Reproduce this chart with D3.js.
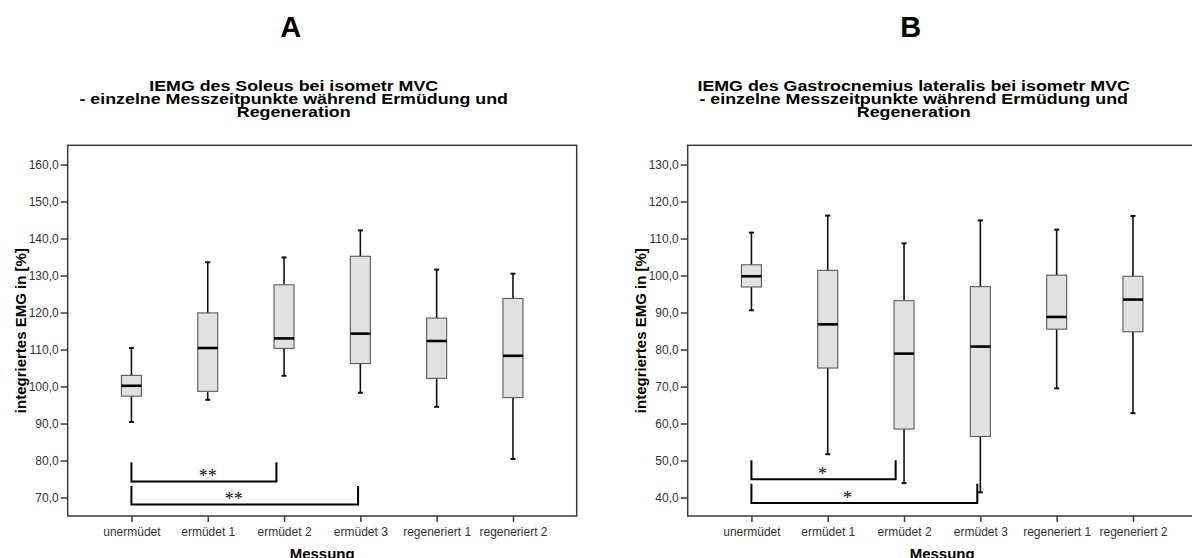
<!DOCTYPE html>
<html>
<head>
<meta charset="utf-8">
<script src="https://cdn.jsdelivr.net/npm/d3@7"></script>
<style>
  html, body { margin: 0; padding: 0; background: #fff; }
  svg { display: block; font-family: "Liberation Sans", Arial, sans-serif; }
</style>
</head>
<body>
<svg id="chart" width="1192" height="558"></svg>
<script>
// Measurement time points (shared by both panels)
const categories = ["unermüdet", "ermüdet 1", "ermüdet 2", "ermüdet 3", "regeneriert 1", "regeneriert 2"];

// Soleus: whisker ends, quartiles and medians (% of unfatigued)
const soleusMin    = [90.4, 96.4, 102.9, 98.3, 94.5, 80.4];
const soleusQ1     = [97.4, 98.7, 110.3, 106.2, 102.2, 97.0];
const soleusMedian = [100.2, 110.4, 113.0, 114.3, 112.3, 108.3];
const soleusQ3     = [103.0, 119.9, 127.5, 135.2, 118.5, 123.8];
const soleusMax    = [110.4, 133.6, 134.9, 142.2, 131.6, 130.5];
const soleusTicks  = [70, 80, 90, 100, 110, 120, 130, 140, 150, 160];
const soleusDomain = [65, 165.2];
const soleusTitle  = ["IEMG des Soleus bei isometr MVC",
                      "- einzelne Messzeitpunkte während Ermüdung und",
                      "Regeneration"];
// Significance brackets: category index span, leg top, base line, label, label position (index)
const soleusSig = [
  { from: 0, to: 1.9,  top: 79.5, base: 74.3, label: "**", at: 1.0 },
  { from: 0, to: 2.97, top: 73.1, base: 68.1, label: "**", at: 1.34 }
];

// Gastrocnemius lateralis
const gastroMin    = [90.6, 51.7, 43.9, 41.4, 69.5, 62.8];
const gastroQ1     = [96.9, 75.0, 58.5, 56.5, 85.5, 84.8];
const gastroMedian = [99.8, 86.8, 78.9, 80.8, 88.8, 93.5];
const gastroQ3     = [102.9, 101.4, 93.2, 97.0, 100.1, 99.8];
const gastroMax    = [111.6, 116.2, 108.7, 114.9, 112.4, 116.1];
const gastroTicks  = [40, 50, 60, 70, 80, 90, 100, 110, 120, 130];
const gastroDomain = [35, 135.2];
const gastroTitle  = ["IEMG des Gastrocnemius lateralis bei isometr MVC",
                      "- einzelne Messzeitpunkte während Ermüdung und",
                      "Regeneration"];
const gastroSig = [
  { from: 0, to: 1.89, top: 50.1, base: 44.9, label: "*", at: 0.93 },
  { from: 0, to: 2.96, top: 43.7, base: 38.5, label: "*", at: 1.26 }
];

const panelLetters = ["A", "B"];
const yLabel = "integriertes EMG in [%]";
const xLabel = "Messung";

const svg = d3.select("#chart");
const fmt = v => d3.format(".1f")(v).replace(".", ",");

const plotW = 509, plotTop = 145.3, plotBottom = 516;

function drawPanel(offsetX, letter, title, mins, q1s, meds, q3s, maxs, ticks, domain, sig) {
  const x0 = offsetX;
  const g = svg.append("g");

  const x = d3.scalePoint().domain(categories).range([x0, x0 + plotW]).padding(0.835);
  const xi = d3.scaleLinear().domain([0, categories.length - 1])
    .range([x(categories[0]), x(categories[categories.length - 1])]);
  const y = d3.scaleLinear().domain(domain).range([plotBottom, plotTop]);

  // Panel letter and title
  const cx = x0 + 225;
  g.append("text").attr("x", cx - 2).attr("y", 37)
    .attr("text-anchor", "middle").attr("font-weight", "bold").attr("font-size", 29)
    .text(letter);
  title.forEach((line, i) => {
    g.append("text")
      .attr("transform", `translate(${cx + 1},${91 + i * 13}) scale(1.15,1)`)
      .attr("text-anchor", "middle").attr("font-weight", "bold").attr("font-size", 15.5)
      .text(line);
  });

  // Plot frame
  g.append("rect").attr("x", x0).attr("y", plotTop).attr("width", plotW).attr("height", plotBottom - plotTop)
    .attr("fill", "none").attr("stroke", "#3c3c3c").attr("stroke-width", 1.5);

  // Y axis
  const yAxis = d3.axisLeft(y).tickValues(ticks).tickFormat(fmt).tickSize(7).tickPadding(2);
  const ya = g.append("g").attr("transform", `translate(${x0},0)`).call(yAxis);
  ya.select(".domain").remove();
  ya.selectAll(".tick line").attr("stroke", "#3c3c3c").attr("stroke-width", 1.5);
  ya.selectAll(".tick text").attr("font-size", 12).attr("fill", "#333")
    .attr("font-family", "Liberation Sans, Arial, sans-serif");

  // X axis
  const xAxis = d3.axisBottom(x).tickSize(6).tickPadding(5);
  const xa = g.append("g").attr("transform", `translate(0,${plotBottom})`).call(xAxis);
  xa.select(".domain").remove();
  xa.selectAll(".tick line").attr("stroke", "#3c3c3c").attr("stroke-width", 1.5);
  xa.selectAll(".tick text").attr("font-size", 12).attr("fill", "#333")
    .attr("font-family", "Liberation Sans, Arial, sans-serif");

  // Axis titles
  g.append("text")
    .attr("transform", `translate(${x0 - 42},${(plotTop + plotBottom) / 2}) rotate(-90)`)
    .attr("text-anchor", "middle").attr("font-weight", "bold").attr("font-size", 15)
    .text(yLabel);
  g.append("text").attr("x", x0 + plotW / 2).attr("y", 559)
    .attr("text-anchor", "middle").attr("font-weight", "bold").attr("font-size", 15)
    .text(xLabel);

  // Box plots
  const boxW = 20, capW = 5;
  const rows = categories.map((c, i) => ({ c, lo: mins[i], q1: q1s[i], med: meds[i], q3: q3s[i], hi: maxs[i] }));
  const box = g.append("g").selectAll("g").data(rows).join("g");

  box.append("line")
    .attr("x1", d => x(d.c)).attr("x2", d => x(d.c))
    .attr("y1", d => y(d.hi)).attr("y2", d => y(d.q3))
    .attr("stroke", "#111").attr("stroke-width", 1.6);
  box.append("line")
    .attr("x1", d => x(d.c)).attr("x2", d => x(d.c))
    .attr("y1", d => y(d.q1)).attr("y2", d => y(d.lo))
    .attr("stroke", "#111").attr("stroke-width", 1.6);
  box.append("line")
    .attr("x1", d => x(d.c) - capW / 2).attr("x2", d => x(d.c) + capW / 2)
    .attr("y1", d => y(d.hi)).attr("y2", d => y(d.hi))
    .attr("stroke", "#111").attr("stroke-width", 2);
  box.append("line")
    .attr("x1", d => x(d.c) - capW / 2).attr("x2", d => x(d.c) + capW / 2)
    .attr("y1", d => y(d.lo)).attr("y2", d => y(d.lo))
    .attr("stroke", "#111").attr("stroke-width", 2);
  box.append("rect")
    .attr("x", d => x(d.c) - boxW / 2).attr("width", boxW)
    .attr("y", d => y(d.q3)).attr("height", d => y(d.q1) - y(d.q3))
    .attr("fill", "#e1e1e1").attr("stroke", "#5a5a5a").attr("stroke-width", 1.1);
  box.append("line")
    .attr("x1", d => x(d.c) - boxW / 2).attr("x2", d => x(d.c) + boxW / 2)
    .attr("y1", d => y(d.med)).attr("y2", d => y(d.med))
    .attr("stroke", "#000").attr("stroke-width", 2.6);

  // Significance brackets
  const br = g.append("g").selectAll("g").data(sig).join("g");
  br.append("path")
    .attr("d", d => `M${xi(d.from)},${y(d.top)}V${y(d.base)}H${xi(d.to)}V${y(d.top)}`)
    .attr("fill", "none").attr("stroke", "#000").attr("stroke-width", 2);
  br.append("text")
    .attr("x", d => xi(d.at)).attr("y", d => y(d.base) + 0.5)
    .attr("text-anchor", "middle").attr("font-family", "Liberation Serif, Times New Roman, serif")
    .attr("font-size", 18).attr("fill", "#111")
    .text(d => d.label);
}

drawPanel(67.7, panelLetters[0], soleusTitle, soleusMin, soleusQ1, soleusMedian, soleusQ3, soleusMax,
          soleusTicks, soleusDomain, soleusSig);
drawPanel(687.7, panelLetters[1], gastroTitle, gastroMin, gastroQ1, gastroMedian, gastroQ3, gastroMax,
          gastroTicks, gastroDomain, gastroSig);
</script>
</body>
</html>
